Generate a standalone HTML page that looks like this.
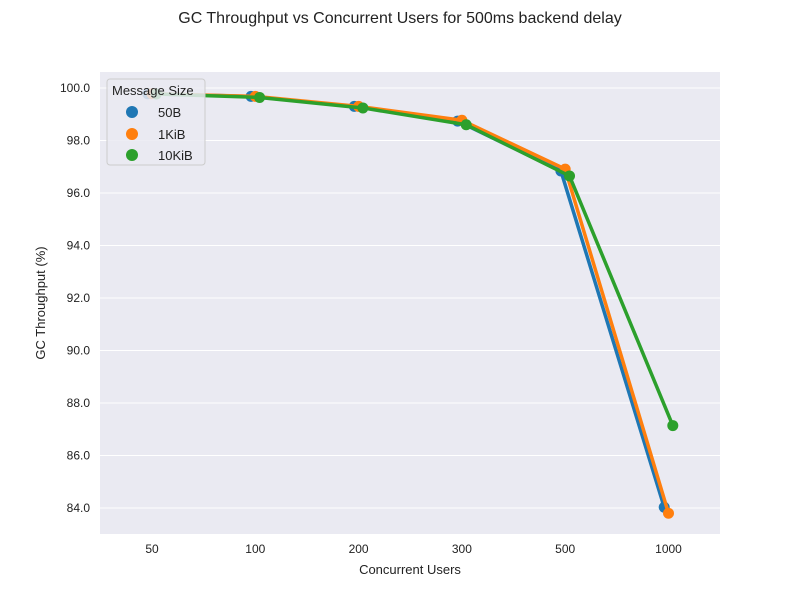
<!DOCTYPE html>
<html><head><meta charset="utf-8"><style>
body{margin:0;background:#fff;font-family:"Liberation Sans",Arial,sans-serif}
svg text{font-family:"Liberation Sans",Arial,sans-serif}
</style></head><body>
<svg id="chart" width="800" height="600">
<text x="400" y="23" text-anchor="middle" font-size="16" fill="#222">GC Throughput vs Concurrent Users for 500ms backend delay</text>
<rect x="100" y="72" width="620" height="462" fill="#eaeaf2"/>
<g id="grid"></g><g id="series"></g><g id="ticks"></g>
<text x="410" y="574" text-anchor="middle" font-size="13" fill="#222">Concurrent Users</text>
<text transform="translate(45,303) rotate(-90)" text-anchor="middle" font-size="13" fill="#222">GC Throughput (%)</text>
<g>
<rect x="107" y="79" width="98" height="86" rx="3" fill="#eaeaf2" fill-opacity="0.85" stroke="#ccc"/>
<text x="112" y="95" font-size="13" fill="#222">Message Size</text>
<g><circle cx="132" cy="112" r="6" fill="#1f77b4"/><text x="158" y="117" font-size="13" fill="#222">50B</text></g>
<g><circle cx="132" cy="134" r="6" fill="#ff7f0e"/><text x="158" y="139" font-size="13" fill="#222">1KiB</text></g>
<g><circle cx="132" cy="155" r="6" fill="#2ca02c"/><text x="158" y="160" font-size="13" fill="#222">10KiB</text></g>
</g>
</svg>
<script>
const categories=["50","100","200","300","500","1000"];
const seriesNames=["50B","1KiB","10KiB"];
const s50B=[99.78,99.68,99.3,98.74,96.84,84.03];
const s1KiB=[99.78,99.68,99.3,98.77,96.91,83.8];
const s10KiB=[99.77,99.64,99.24,98.6,96.65,87.14];
const yTicks=[84,86,88,90,92,94,96,98,100];
const colors=["#1f77b4","#ff7f0e","#2ca02c"];
const NS="http://www.w3.org/2000/svg";
const xPos=i=>152+i*103.3;
const yPos=v=>508-(v-84)*26.25;
function mk(t,a,p){const e=document.createElementNS(NS,t);for(const k in a)e.setAttribute(k,a[k]);p.appendChild(e);return e;}
const grid=document.getElementById('grid'),ticks=document.getElementById('ticks'),ser=document.getElementById('series');
yTicks.forEach(v=>{
 const l=mk('line',{x1:100,x2:720,y1:yPos(v),y2:yPos(v),stroke:'#fff','stroke-width':1},grid);
 
 
 const t=mk('text',{x:90,y:yPos(v)+4,'text-anchor':'end','font-size':12,fill:'#222'},ticks);
 t.textContent=v.toFixed(1);
 
 
});
categories.forEach((c,i)=>{
 const t=mk('text',{x:xPos(i),y:553,'text-anchor':'middle','font-size':12,fill:'#222'},ticks);
 t.textContent=c;
 
 
});
[s50B,s1KiB,s10KiB].forEach((d,k)=>{
 const off=(k-1)*4.3;
 const g=mk('g',{},ser);
 
 
 const pts=d.map((v,i)=>(xPos(i)+off)+','+yPos(v)).join(' ');
 const pl=mk('polyline',{points:pts,fill:'none',stroke:colors[k],'stroke-width':3.5,'stroke-linejoin':'round'},g);
 
 
 d.forEach((v,i)=>{
  const c=mk('circle',{cx:xPos(i)+off,cy:yPos(v),r:5.5,fill:colors[k]},g);
  
  
 });
});
</script>
</body></html>
